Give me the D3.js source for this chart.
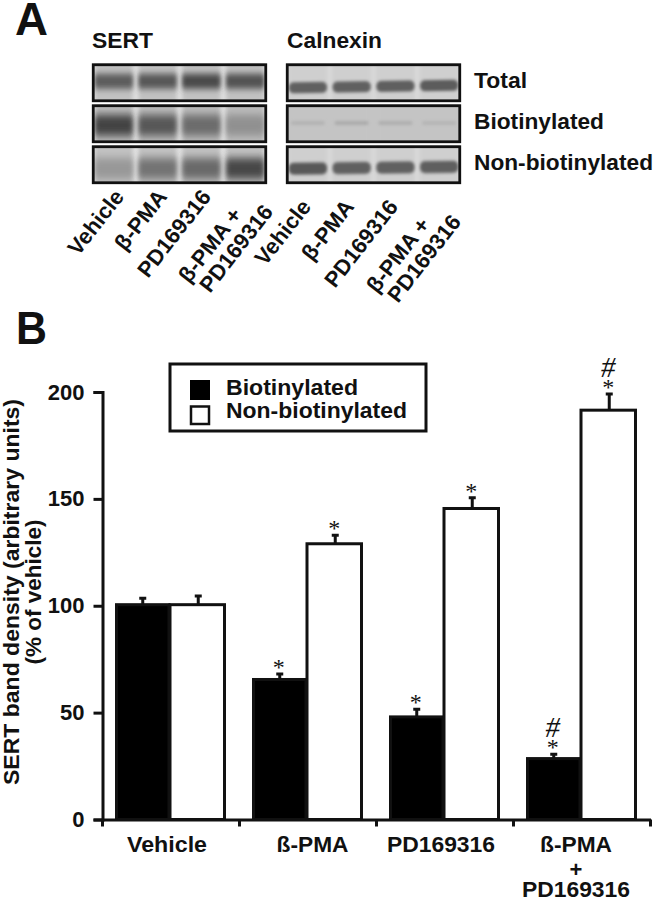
<!DOCTYPE html>
<html><head><meta charset="utf-8">
<script src="https://cdn.jsdelivr.net/npm/d3@7"></script>
<style>html,body{margin:0;padding:0;background:#fff}svg{display:block}text{font-family:"Liberation Sans",Arial,sans-serif;font-weight:700;fill:#111}</style>
</head><body><svg id="c" width="653" height="899"></svg>
<script>
// ---- Panel B data
const groups = ["Vehicle","ß-PMA","PD169316","ß-PMA+PD169316"];
const seriesNames = ["Biotinylated","Non-biotinylated"];
const biotinylated = [100.5,65.5,48,28.5];
const nonBiotinylated = [100.5,129,145.5,191.5];
const biotinylatedErr = [3.5,3,4,2.5];
const nonBiotinylatedErr = [4.5,4.5,5.5,8];
const biotinylatedMarks = ["","*","*","#*"];
const nonBiotinylatedMarks = ["","*","*","#*"];
const yTicks = [0,50,100,150,200];
// ---- Panel A data (band darkness 0-1, per lane)
const lanes = ["Vehicle","β-PMA","PD169316","β-PMA +|PD169316"];
const blotRows = ["Total","Biotinylated","Non-biotinylated"];
const sertTotal = [0.76,0.8,0.9,0.84];
const sertBiotinylated = [0.95,0.8,0.64,0.36];
const sertNonBiotinylated = [0.3,0.58,0.66,0.92];
const calnexinTotal = [0.72,0.72,0.74,0.76];
const calnexinBiotinylated = [0.1,0.16,0.13,0.08];
const calnexinNonBiotinylated = [0.78,0.72,0.72,0.74];

const svg = d3.select("#c");
const defs = svg.append("defs");
function blur(id,sx,sy){defs.append("filter").attr("id",id).attr("x","-40%").attr("y","-100%").attr("width","180%").attr("height","300%")
  .append("feGaussianBlur").attr("stdDeviation",sx+" "+sy);}
blur("soft",2.2,3); blur("softer",2.6,4); blur("tight",1.6,1.7); blur("haze",2,3);

function label(x,y,t,size,width,anchor){
  const s=svg.append("text").attr("x",x).attr("y",y).attr("font-size",size).attr("text-anchor",anchor||"start").text(t);
  if(width) s.attr("textLength",width).attr("lengthAdjust","spacingAndGlyphs");
  return s;
}
label(15,35,"A",46,33); label(16,344,"B",46,31);
label(92,47.5,"SERT",21.5,61); label(287,47.5,"Calnexin",21.5,95);
label(474,88,"Total",22,53); label(474,128.5,"Biotinylated",22,130); label(474,169.5,"Non-biotinylated",22,179);

// blots
const rowY = d3.scaleBand().domain(blotRows).range([63.5,184]).paddingInner(0.06);
const laneS = d3.scaleBand().domain(lanes).range([92,267]).paddingInner(0.12).paddingOuter(0.06);
const laneC = d3.scaleBand().domain(lanes).range([286,461]).paddingInner(0.08).paddingOuter(0.04);
const shade = d3.scaleLinear().domain([0,1]).range(["#c0c0c0","#3c3c3c"]);
function blot(id,scale,rowsData,bg,hazeCol,opts){
  blotRows.forEach((r,i)=>{
    const y=rowY(r),h=rowY.bandwidth(),x0=scale.range()[0],w=scale.range()[1]-x0;
    const clip=id+i; defs.append("clipPath").attr("id",clip).append("rect").attr("x",x0).attr("y",y).attr("width",w).attr("height",h);
    const g=svg.append("g");
    g.append("rect").attr("x",x0).attr("y",y).attr("width",w).attr("height",h).attr("fill",bg[i]);
    const inner=g.append("g").attr("clip-path",`url(#${clip})`);
    inner.selectAll("rect.h").data(rowsData[i]).join("rect").attr("class","h")
      .attr("x",(d,k)=>scale(lanes[k])).attr("width",scale.bandwidth()).attr("y",y-6).attr("height",h+12)
      .attr("fill",hazeCol[i]).attr("filter","url(#haze)");
    const o=opts[i];
    const b=inner.append("g").attr("transform",`rotate(${o.rot} ${x0+w/2} ${y+h/2})`);
    b.selectAll("rect.b").data(rowsData[i]).join("rect").attr("class","b")
      .attr("x",(d,k)=>scale(lanes[k])+o.inset).attr("width",scale.bandwidth()-2*o.inset)
      .attr("y",y+h*o.cy-o.bh/2).attr("height",o.bh).attr("rx",o.round)
      .attr("fill",d=>shade(d)).attr("filter",`url(#${o.f})`);
    g.append("rect").attr("x",x0+1.25).attr("y",y+1.25).attr("width",w-2.5).attr("height",h-2.5).attr("fill","none").attr("stroke","#111").attr("stroke-width",2.8);
  });
}
blot("s",laneS,[sertTotal,sertBiotinylated,sertNonBiotinylated],["#e2e2e2","#e4e4e4","#e6e6e6"],["#c2c2c2","#bdbdbd","#c2c2c2"],
  [{cy:.46,bh:15,f:"soft",inset:0,rot:0,round:2},{cy:.54,bh:21,f:"softer",inset:0,rot:0,round:3},{cy:.6,bh:21,f:"softer",inset:0,rot:0,round:3}]);
blot("c",laneC,[calnexinTotal,calnexinBiotinylated,calnexinNonBiotinylated],["#dcdcdc","#c4c4c4","#dcdcdc"],["#cfcfcf","#c4c4c4","#cfcfcf"],
  [{cy:.6,bh:11,f:"tight",inset:1,rot:-0.9,round:5},{cy:.48,bh:4,f:"tight",inset:3,rot:0,round:2},{cy:.58,bh:12,f:"tight",inset:1,rot:-0.7,round:5}]);

// rotated lane labels
[[[125,168,212,[243,274]],[197,197,197,[215,212]]],[[312,355,399,[431,462]],[207,207,207,[225,222]]]].forEach(([px,py])=>{
  lanes.forEach((t,i)=>{
    t.split("|").forEach((p,j)=>{
      const X=Array.isArray(px[i])?px[i][j]:px[i], Y=Array.isArray(py[i])?py[i][j]:py[i];
      svg.append("text").attr("transform",`translate(${X},${Y}) rotate(-52)`).attr("text-anchor","end").attr("font-size",22).text(p);
    });
  });
});

// Panel B
const x = d3.scaleBand().domain(groups).range([102.5,650.5]);
const xs = d3.scaleBand().domain(seriesNames).range([12.5,123.5]);
const y = d3.scaleLinear().domain([0,200]).range([819.5,392]);
const rows = groups.map((g,i)=>[
  {g,s:seriesNames[0],v:biotinylated[i],e:biotinylatedErr[i],m:biotinylatedMarks[i]},
  {g,s:seriesNames[1],v:nonBiotinylated[i],e:nonBiotinylatedErr[i],m:nonBiotinylatedMarks[i]}]).flat();

const cx=d=>x(d.g)+xs(d.s)+xs.bandwidth()/2;
svg.append("g").attr("stroke","#111").selectAll("path").data(rows).join("path").attr("fill","none").attr("stroke-width",3)
  .attr("d",d=>`M${cx(d)},${y(d.v)}V${y(d.v+d.e)+1}M${cx(d)-3.5},${y(d.v+d.e)+1}H${cx(d)+3.5}`);
svg.append("g").selectAll("rect").data(rows).join("rect")
  .attr("x",d=>x(d.g)+xs(d.s)+(d.s===seriesNames[1]?-0.5:1.5))
  .attr("width",d=>xs.bandwidth()-(d.s===seriesNames[1]?1:3))
  .attr("y",d=>y(d.v)).attr("height",d=>y(0)-y(d.v))
  .attr("fill",d=>d.s===seriesNames[0]?"#000":"#fff").attr("stroke","#111").attr("stroke-width",3);

const yAxis=svg.append("g").attr("transform","translate(102.5,0)").call(d3.axisLeft(y).tickValues(yTicks).tickSize(9).tickPadding(9));
const xAxis=svg.append("g").attr("transform","translate(0,819.5)").call(d3.axisBottom(x).tickValues([]).tickSize(0));
xAxis.select(".domain").attr("stroke","#111").attr("stroke-width",3);
xAxis.selectAll("line.t").data(d3.range(0,5)).join("line").attr("class","t")
  .attr("x1",i=>x.range()[0]+i*x.step()).attr("x2",i=>x.range()[0]+i*x.step()).attr("y1",0).attr("y2",7).attr("stroke","#111").attr("stroke-width",3);
yAxis.select(".domain").attr("stroke","#111").attr("stroke-width",3);
yAxis.selectAll(".tick line").attr("stroke","#111").attr("stroke-width",3);
yAxis.selectAll(".tick text").attr("font-size",22).attr("font-family",'"Liberation Sans",Arial,sans-serif').attr("font-weight",700).attr("fill","#111");

// category labels
[[167,852,"Vehicle",80],[312.5,852,"ß-PMA",72],[441,852,"PD169316",108]].forEach(a=>label(a[0],a[1],a[2],22,a[3],"middle"));
label(576,852,"ß-PMA",22,72,"middle"); label(576,877,"+",22,null,"middle"); label(576,897,"PD169316",22,108,"middle");

// y title
svg.append("text").attr("transform","translate(19,592) rotate(-90)").attr("text-anchor","middle").attr("font-size",22.5).attr("textLength",386).attr("lengthAdjust","spacingAndGlyphs").text("SERT band density (arbitrary units)");
svg.append("text").attr("transform","translate(41,592) rotate(-90)").attr("text-anchor","middle").attr("font-size",22.5).text("(% of vehicle)");

// significance marks
const marks=svg.append("g");
rows.filter(d=>d.m).forEach(d=>{
  const top=y(d.v+d.e);
  marks.append("text").attr("x",cx(d)-1).attr("y",top+2).attr("text-anchor","middle")
    .attr("style",'font-family:"Liberation Serif",serif;font-weight:400;font-size:24px').text("*");
  if(d.m.includes("#")) marks.append("text").attr("x",cx(d)-1).attr("y",top-16).attr("text-anchor","middle")
    .attr("style",'font-family:"Liberation Serif",serif;font-weight:400;font-style:italic;font-size:29px').text("#");
});

// legend
const lg=svg.append("g");
lg.append("rect").attr("x",170).attr("y",364).attr("width",256).attr("height",67).attr("fill","#fff").attr("stroke","#111").attr("stroke-width",3);
lg.selectAll("rect.k").data(seriesNames).join("rect").attr("class","k").attr("x",(d,i)=>i?191:190).attr("y",(d,i)=>i?406.5:380).attr("width",(d,i)=>i?18:20).attr("height",(d,i)=>i?17.5:20)
  .attr("fill",(d,i)=>i?"#fff":"#000").attr("stroke",(d,i)=>i?"#111":"none").attr("stroke-width",2.5);
lg.selectAll("text").data(seriesNames).join("text").attr("x",226).attr("y",(d,i)=>i?418:395).attr("font-size",22).attr("textLength",(d,i)=>i?181:132).attr("lengthAdjust","spacingAndGlyphs").text(d=>d);
</script></body></html>
